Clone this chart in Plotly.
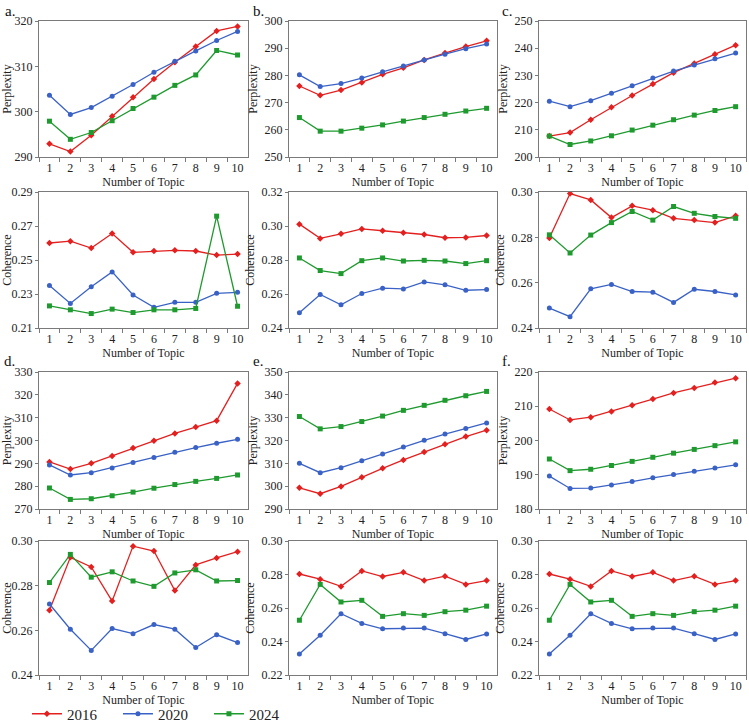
import plotly.graph_objects as go

topics = [str(i) for i in range(1, 11)]
years = ["2016", "2020", "2024"]
panel_labels = ["a.", "b.", "c.", "d.", "e.", "f."]

# Perplexity values per panel (2016, 2020, 2024)
a_perp_2016 = [292.9, 291.2, 294.8, 299.0, 303.2, 307.2, 310.9, 314.4, 317.8, 318.8]
a_perp_2020 = [303.6, 299.4, 300.9, 303.4, 306.0, 308.7, 311.1, 313.4, 315.7, 317.7]
a_perp_2024 = [297.9, 293.9, 295.4, 298.0, 300.7, 303.2, 305.8, 308.1, 313.5, 312.5]

b_perp_2016 = [276.1, 272.7, 274.6, 277.4, 280.4, 282.8, 285.7, 288.2, 290.6, 292.7]
b_perp_2020 = [280.2, 275.9, 277.0, 279.0, 281.3, 283.5, 285.7, 287.8, 289.8, 291.5]
b_perp_2024 = [264.5, 259.5, 259.5, 260.6, 261.8, 263.2, 264.5, 265.7, 266.9, 267.9]

c_perp_2016 = [207.7, 209.0, 213.7, 218.3, 222.6, 226.8, 231.0, 234.4, 237.8, 241.1]
c_perp_2020 = [220.5, 218.5, 220.7, 223.4, 226.2, 229.0, 231.6, 233.8, 236.1, 238.2]
c_perp_2024 = [207.7, 204.6, 205.9, 207.8, 209.9, 211.7, 213.7, 215.4, 217.1, 218.5]

d_perp_2016 = [290.6, 287.5, 290.0, 293.2, 296.7, 299.9, 303.1, 305.9, 308.7, 325.0]
d_perp_2020 = [289.3, 284.9, 285.9, 288.0, 290.4, 292.6, 294.8, 296.9, 298.8, 300.5]
d_perp_2024 = [279.2, 274.2, 274.5, 275.8, 277.4, 279.1, 280.7, 282.1, 283.4, 284.9]

e_perp_2016 = [299.3, 296.7, 299.9, 303.9, 307.8, 311.5, 315.0, 318.4, 321.7, 324.5]
e_perp_2020 = [310.0, 305.9, 308.1, 311.1, 314.1, 317.2, 320.1, 322.8, 325.3, 327.7]
e_perp_2024 = [330.5, 325.1, 326.1, 328.3, 330.7, 333.2, 335.4, 337.6, 339.6, 341.5]

f_perp_2016 = [209.2, 206.0, 206.8, 208.5, 210.3, 212.1, 213.9, 215.3, 216.9, 218.2]
f_perp_2020 = [189.6, 186.0, 186.1, 187.0, 188.0, 189.1, 190.1, 191.0, 192.0, 192.9]
f_perp_2024 = [194.6, 191.2, 191.6, 192.7, 193.9, 195.1, 196.3, 197.4, 198.5, 199.6]

# Coherence values per panel
a_coh_2016 = [0.2600, 0.2611, 0.2570, 0.2656, 0.2545, 0.2553, 0.2557, 0.2553, 0.2529, 0.2535]
a_coh_2020 = [0.2350, 0.2244, 0.2343, 0.2430, 0.2294, 0.2222, 0.2251, 0.2251, 0.2304, 0.2310]
a_coh_2024 = [0.2230, 0.2207, 0.2185, 0.2211, 0.2191, 0.2207, 0.2207, 0.2215, 0.2758, 0.2228]

b_coh_2016 = [0.3011, 0.2927, 0.2954, 0.2983, 0.2972, 0.2960, 0.2950, 0.2931, 0.2933, 0.2944]
b_coh_2020 = [0.2490, 0.2597, 0.2537, 0.2603, 0.2634, 0.2630, 0.2671, 0.2654, 0.2622, 0.2626]
b_coh_2024 = [0.2812, 0.2738, 0.2720, 0.2796, 0.2812, 0.2794, 0.2798, 0.2794, 0.2779, 0.2796]

c_coh_2016 = [0.2797, 0.2993, 0.2965, 0.2887, 0.2939, 0.2920, 0.2884, 0.2876, 0.2865, 0.2895]
c_coh_2020 = [0.2488, 0.2450, 0.2573, 0.2592, 0.2561, 0.2558, 0.2513, 0.2571, 0.2561, 0.2546]
c_coh_2024 = [0.2811, 0.2731, 0.2810, 0.2865, 0.2914, 0.2876, 0.2936, 0.2906, 0.2892, 0.2884]

d_coh_2016 = [0.2690, 0.2927, 0.2884, 0.2731, 0.2977, 0.2955, 0.2778, 0.2893, 0.2924, 0.2952]
d_coh_2020 = [0.2718, 0.2605, 0.2510, 0.2608, 0.2585, 0.2626, 0.2605, 0.2523, 0.2580, 0.2545]
d_coh_2024 = [0.2814, 0.2940, 0.2838, 0.2862, 0.2821, 0.2797, 0.2857, 0.2871, 0.2821, 0.2823]

e_coh_2016 = [0.2803, 0.2772, 0.2729, 0.2821, 0.2788, 0.2813, 0.2764, 0.2790, 0.2741, 0.2764]
e_coh_2020 = [0.2325, 0.2437, 0.2566, 0.2508, 0.2476, 0.2480, 0.2480, 0.2447, 0.2412, 0.2445]
e_coh_2024 = [0.2527, 0.2741, 0.2636, 0.2646, 0.2550, 0.2566, 0.2556, 0.2578, 0.2587, 0.2611]

f_coh_2016 = [0.2803, 0.2772, 0.2729, 0.2821, 0.2788, 0.2813, 0.2764, 0.2790, 0.2741, 0.2764]
f_coh_2020 = [0.2325, 0.2437, 0.2566, 0.2508, 0.2476, 0.2480, 0.2480, 0.2447, 0.2412, 0.2445]
f_coh_2024 = [0.2527, 0.2741, 0.2636, 0.2646, 0.2550, 0.2566, 0.2556, 0.2578, 0.2587, 0.2611]

perp_ranges = [(290, 320), (250, 300), (200, 250), (270, 330), (290, 350), (180, 220)]
coh_ranges = [(0.21, 0.29), (0.24, 0.32), (0.24, 0.30), (0.24, 0.30), (0.22, 0.30), (0.22, 0.30)]

perp = [
    [a_perp_2016, a_perp_2020, a_perp_2024],
    [b_perp_2016, b_perp_2020, b_perp_2024],
    [c_perp_2016, c_perp_2020, c_perp_2024],
    [d_perp_2016, d_perp_2020, d_perp_2024],
    [e_perp_2016, e_perp_2020, e_perp_2024],
    [f_perp_2016, f_perp_2020, f_perp_2024],
]
coh = [
    [a_coh_2016, a_coh_2020, a_coh_2024],
    [b_coh_2016, b_coh_2020, b_coh_2024],
    [c_coh_2016, c_coh_2020, c_coh_2024],
    [d_coh_2016, d_coh_2020, d_coh_2024],
    [e_coh_2016, e_coh_2020, e_coh_2024],
    [f_coh_2016, f_coh_2020, f_coh_2024],
]

colors = ["#e3201f", "#3a62c6", "#1e9a2e"]
symbols = ["diamond", "circle", "square"]

W, H = 749, 722
col_px = [(39, 248), (289, 497), (539, 746)]
row_px = [(21, 157), (192, 328), (372, 509), (541, 675)]
label_px = [(3, 1), (251, 1), (500, 1), (2, 351), (251, 351), (500, 351)]

FONT = "Liberation Serif"
AX = "#7a7a7a"

fig = go.Figure()
layout = dict(
    width=W, height=H,
    margin=dict(l=0, r=0, t=0, b=0, autoexpand=False),
    paper_bgcolor="white", plot_bgcolor="white",
    font=dict(family=FONT, size=11, color="#222"),
    showlegend=True,
    legend=dict(orientation="h", x=0.036, y=1 - 714 / H, xanchor="left", yanchor="middle",
                font=dict(family=FONT, size=15, color="#222"),
                entrywidth=46, entrywidthmode="pixels", itemwidth=30,
                tracegroupgap=0, bgcolor="rgba(0,0,0,0)"),
    annotations=[],
)

for p in range(6):
    col = p % 3
    block = p // 3
    for kind in range(2):
        k = 2 * p + kind + 1
        r = 2 * block + kind
        xs = "x" if k == 1 else f"x{k}"
        ys = "y" if k == 1 else f"y{k}"
        data = perp[p] if kind == 0 else coh[p]
        for s in range(3):
            fig.add_trace(go.Scatter(
                x=topics, y=data[s], xaxis=xs, yaxis=ys, mode="lines+markers",
                name=years[s], showlegend=(k == 1),
                line=dict(color=colors[s], width=1.3),
                marker=dict(color=colors[s], symbol=symbols[s], size=5),
            ))
        x0, x1 = col_px[col]
        y0, y1 = row_px[r]
        rng = perp_ranges[p] if kind == 0 else coh_ranges[p]
        layout[f"xaxis{k}" if k > 1 else "xaxis"] = dict(
            domain=[x0 / W, x1 / W], anchor=ys, type="category",
            range=[-0.5, 9.5], tickson="boundaries", ticks="outside", ticklen=4,
            tickangle=0,
            tickcolor=AX, showline=True, linecolor=AX, linewidth=1, mirror=True,
            showgrid=False, zeroline=False, tickfont=dict(size=12),
            title=dict(text="Number of Topic", font=dict(size=12),
                       standoff=0 if r == 3 else 1),
        )
        layout[f"yaxis{k}" if k > 1 else "yaxis"] = dict(
            domain=[1 - y1 / H, 1 - y0 / H], anchor=xs,
            range=list(rng), tick0=rng[0], dtick=10 if kind == 0 else 0.02,
            tickformat="d" if kind == 0 else ".2f",
            ticks="outside", ticklen=3, tickcolor=AX,
            showline=True, linecolor=AX, linewidth=1, mirror=True,
            showgrid=False, zeroline=False, tickfont=dict(size=12),
            title=dict(text="Perplexity" if kind == 0 else "Coherence",
                       font=dict(size=12), standoff=4),
        )
    lx, ly = label_px[p]
    layout["annotations"].append(dict(
        text=panel_labels[p], xref="paper", yref="paper",
        x=lx / W, y=1 - ly / H, xanchor="left", yanchor="top",
        showarrow=False, font=dict(family=FONT, size=15, color="#111")))

fig.update_layout(**layout)
fig.write_html("out.html")
